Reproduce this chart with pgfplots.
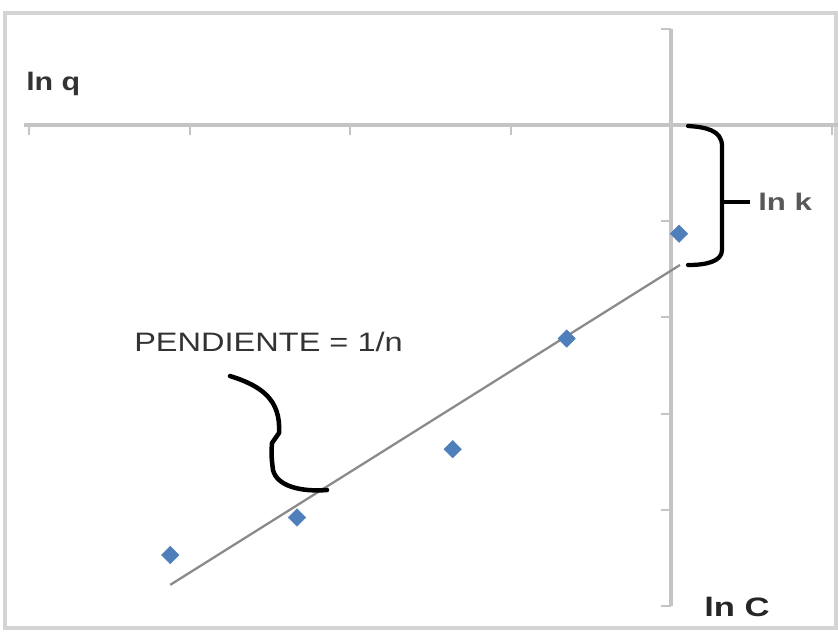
\documentclass[border=0pt]{standalone}
\usepackage{pgfplots}
\pgfplotsset{compat=1.18}
\usepackage{fontspec}
\setmainfont{Liberation Sans}
\definecolor{axgray}{HTML}{C4C4C4}
\definecolor{framegray}{HTML}{D4D4D4}
\definecolor{ptblue}{HTML}{4F7FBA}
\definecolor{fitgray}{HTML}{8A8A8A}
\begin{document}
\begin{tikzpicture}[x=0.75pt,y=-0.75pt]
\useasboundingbox (0,0) rectangle (838,640);
\clip (0,0) rectangle (838,640);
\fill[white] (0,0) rectangle (838,640);
\draw[framegray,line width=3pt] (5,13) rectangle (836,628);
\begin{axis}[
  at={(503.25pt,-93.75pt)}, anchor=origin,
  x=120.375pt, y=72.15pt,
  xmin=-4.03, xmax=1.06, ymin=-5, ymax=1,
  axis lines=middle,
  axis line style={-, axgray, line width=2.6pt},
  xtick={-4,-3,-2,-1,0,1}, ytick={-5,-4,-3,-2,-1,0,1},
  xticklabels={}, yticklabels={},
  tick align=outside,
  major tick length=7.5pt,
  tick style={axgray, line width=1.5pt},
  clip=false,
]
\addplot[fitgray, line width=1.7pt, no marks] coordinates {(-3.12,-4.78) (0.056,-1.455)};
\addplot[only marks, mark=square*, mark size=4.6pt, mark options={rotate=45, fill=ptblue, draw=ptblue}]
 coordinates {(-3.12,-4.47) (-2.33,-4.08) (-1.36,-3.37) (-0.65,-2.22) (0.05,-1.13)};
\end{axis}
% ln k bracket
\draw[black, line width=3.2pt, line cap=round, line join=round]
  (688,126) .. controls (705,127) and (722,130) .. (722,146) -- (722,250) .. controls (722,262) and (705,265) .. (688,265);
\draw[black, line width=3.2pt] (722,202) -- (750,202);
\node[anchor=west, text=black!65, font=\fontsize{18}{20}\selectfont\bfseries, inner sep=0pt] at (758,202) {\scalebox{1.3}[1]{ln k}};
% slope squiggle
\draw[black, line width=3.4pt, line cap=round, line join=round]
  (230,376) .. controls (262,386) and (281,400) .. (279,433) -- (272,443) .. controls (271,455) and (272,462) .. (273,470) .. controls (277,486) and (300,492) .. (327,490);
\node[anchor=west, text=black!80, font=\fontsize{20}{22}\selectfont, inner sep=0pt] at (134,342) {\scalebox{1.22}[1]{PENDIENTE = 1/n}};
\node[anchor=west, text=black!80, font=\fontsize{19}{21}\selectfont\bfseries, inner sep=0pt] at (26,84) {\scalebox{1.2}[1]{ln q}};
\node[anchor=west, text=black!85, font=\fontsize{20}{22}\selectfont\bfseries, inner sep=0pt] at (704,607) {\scalebox{1.3}[1]{ln C}};
\end{tikzpicture}
\end{document}
